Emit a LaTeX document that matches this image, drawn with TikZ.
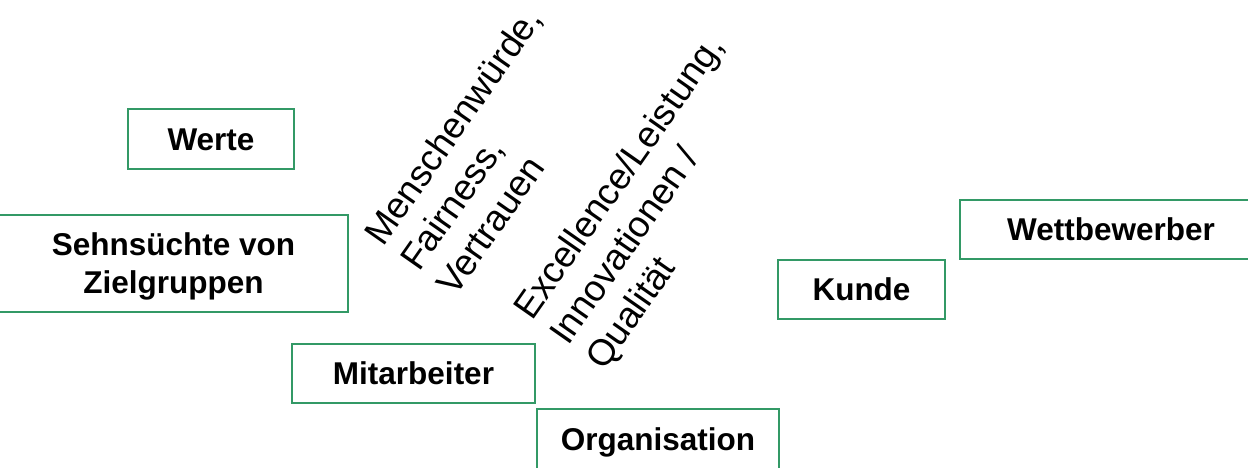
\documentclass[tikz,border=0pt]{standalone}
\usepackage{fontspec}
\setmainfont{Liberation Sans}
\definecolor{boxgreen}{HTML}{339966}
\begin{document}
\begin{tikzpicture}[x=1pt,y=1pt,
  box/.style={draw=boxgreen, line width=2pt, rectangle, inner sep=0pt,
    font=\fontsize{31.5}{38}\selectfont\bfseries, text height=22.6pt, text depth=0pt},
  boxline/.style={inner sep=0pt, anchor=base, font=\fontsize{31.5}{38}\selectfont\bfseries},
  rottext/.style={inner sep=0pt, anchor=base west, rotate=55, font=\fontsize{36.7}{44}\selectfont}]
\clip (0,0) rectangle (1248,467);
\fill[white] (0,0) rectangle (1248,467);
% boxes
\node[box, minimum width=166pt, minimum height=60pt] (werte) at (211,328) {Werte};
\node[box, minimum width=349pt, minimum height=97pt] (sehn) at (173.5,203.5) {};
\node[boxline] (sehnA) at (173.5,212) {Sehnsüchte von};
\node[boxline] (sehnB) at (173.5,174) {Zielgruppen};
\node[box, minimum width=243pt, minimum height=59pt] (mitarb) at (413.5,93.5) {Mitarbeiter};
\node[box, minimum width=242pt, minimum height=60pt] (orga) at (658,28) {Organisation};
\node[box, minimum width=167pt, minimum height=59pt] (kunde) at (861.5,177.5) {Kunde};
\node[box, minimum width=302pt, minimum height=59pt] (wettb) at (1111,237.5) {Wettbewerber};
% rotated texts
\node[rottext] (m1) at (383,219) {Menschenwürde,};
\node[rottext] (m2) at (419,194) {Fairness,};
\node[rottext] (m3) at (455,169) {Vertrauen};
\node[rottext] (e1) at (532,145) {Excellence/Leistung,};
\node[rottext] (e2) at (568,120) {Innovationen /};
\node[rottext] (e3) at (604,95) {Qualität};
\end{tikzpicture}
\end{document}
